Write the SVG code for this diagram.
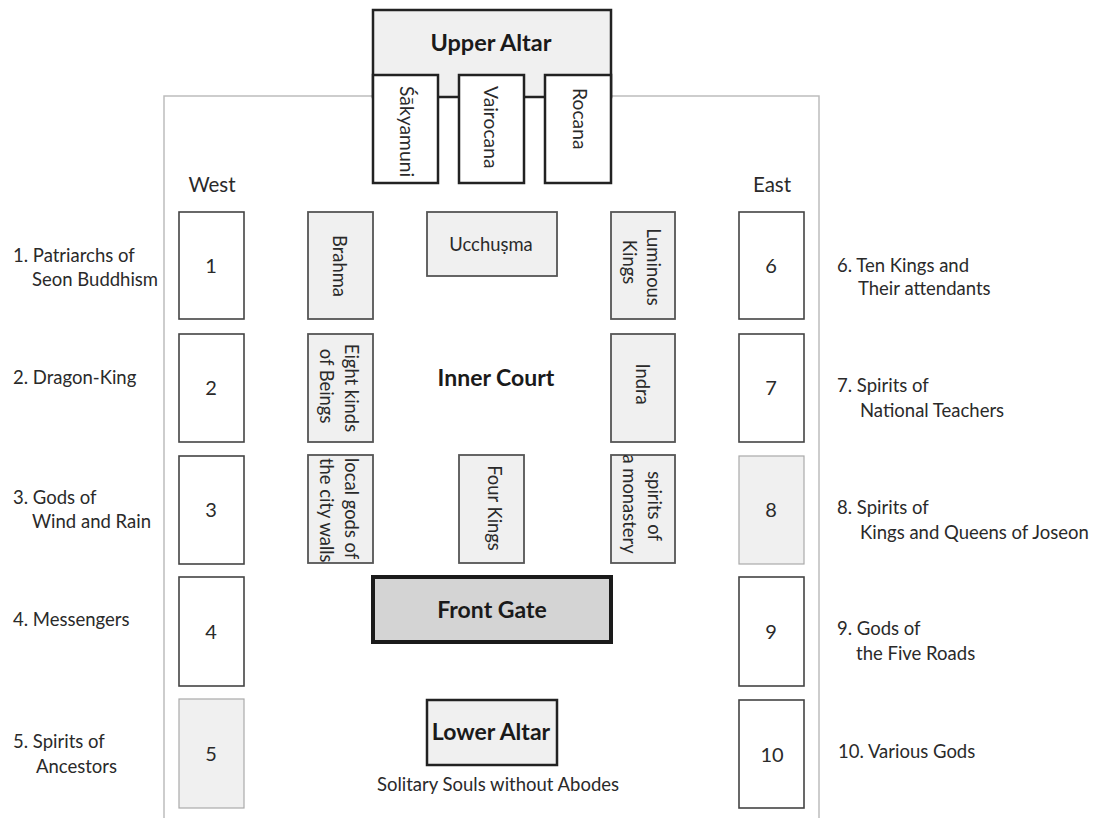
<svg xmlns="http://www.w3.org/2000/svg" width="1100" height="818" viewBox="0 0 1100 818">
<style>
text{font-family:Lato,"Liberation Sans",sans-serif;fill:#2a2a2a}
.lbl{font-size:18.5px}
.num{font-size:20px;text-anchor:middle}
.vt{font-size:18.4px;text-anchor:middle}
.vts{font-size:18.4px}
.ua{font-size:19.3px}
.title{font-weight:bold;text-anchor:middle;fill:#1a1a1a}
.box{fill:#fff;stroke:#444;stroke-width:1.6}
.lbox{fill:#f0f0f0;stroke:#aaa;stroke-width:1.2}
.ibox{fill:#f0f0f0;stroke:#555;stroke-width:1.8}
.frame{fill:none;stroke:#bdbdbd;stroke-width:1.5}
</style>
<rect width="1100" height="818" fill="#fff"/>
<g id="frame">
<path class="frame" d="M164,818 V96 H373 M611,96 H819 V818"/>
</g>
<g id="upper-altar">
<rect x="373" y="10" width="238" height="87" fill="#f0f0f0" stroke="#222" stroke-width="2.5"/>
<text class="title" x="491" y="51" font-size="23.5">Upper Altar</text>
</g>
<g id="sakyamuni">
<rect x="373" y="75" width="65" height="108" fill="#fff" stroke="#222" stroke-width="2.5"/>
<text class="ua" transform="translate(400,86) rotate(90)">Śākyamuni</text>
</g>
<g id="vairocana">
<rect x="459" y="75" width="65" height="108" fill="#fff" stroke="#222" stroke-width="2.5"/>
<text class="ua" transform="translate(484,86) rotate(90)">Vairocana</text>
</g>
<g id="rocana">
<rect x="545" y="75" width="66" height="108" fill="#fff" stroke="#222" stroke-width="2.5"/>
<text class="ua" transform="translate(573,88) rotate(90)">Rocana</text>
</g>
<g id="directions">
<text x="212" y="192" font-size="20.5" text-anchor="middle">West</text>
<text x="772" y="192" font-size="20.5" text-anchor="middle">East</text>
</g>
<g id="w1"><rect class="box" x="179" y="212" width="65" height="107"/><text class="num" x="211" y="273">1</text></g>
<g id="w2"><rect class="box" x="179" y="334" width="65" height="108"/><text class="num" x="211" y="395">2</text></g>
<g id="w3"><rect class="box" x="179" y="456" width="65" height="108"/><text class="num" x="211" y="517">3</text></g>
<g id="w4"><rect class="box" x="179" y="577" width="65" height="109"/><text class="num" x="211" y="639">4</text></g>
<g id="w5"><rect class="lbox" x="179" y="699" width="65" height="109"/><text class="num" x="211" y="761">5</text></g>
<g id="e6"><rect class="box" x="739" y="212" width="65" height="107"/><text class="num" x="771" y="273">6</text></g>
<g id="e7"><rect class="box" x="739" y="334" width="65" height="108"/><text class="num" x="771" y="395">7</text></g>
<g id="e8"><rect class="lbox" x="739" y="456" width="65" height="108"/><text class="num" x="771" y="517">8</text></g>
<g id="e9"><rect class="box" x="739" y="577" width="65" height="109"/><text class="num" x="771" y="639">9</text></g>
<g id="e10"><rect class="box" x="739" y="700" width="65" height="108"/><text class="num" x="772" y="762">10</text></g>
<g id="labels-west">
<text class="lbl" x="13" y="262">1. Patriarchs of</text>
<text class="lbl" x="32" y="286">Seon Buddhism</text>
<text class="lbl" x="13" y="384">2. Dragon-King</text>
<text class="lbl" x="13" y="504">3. Gods of</text>
<text class="lbl" x="32" y="528">Wind and Rain</text>
<text class="lbl" x="13" y="626">4. Messengers</text>
<text class="lbl" x="13" y="748">5. Spirits of</text>
<text class="lbl" x="36" y="773">Ancestors</text>
</g>
<g id="labels-east">
<text class="lbl" x="837" y="272">6. Ten Kings and</text>
<text class="lbl" x="858" y="295">Their attendants</text>
<text class="lbl" x="837" y="392">7. Spirits of</text>
<text class="lbl" x="860" y="417">National Teachers</text>
<text class="lbl" x="837" y="514">8. Spirits of</text>
<text class="lbl" x="860" y="539">Kings and Queens of Joseon</text>
<text class="lbl" x="837" y="635">9. Gods of</text>
<text class="lbl" x="856" y="660">the Five Roads</text>
<text class="lbl" x="838" y="758">10. Various Gods</text>
</g>
<g id="brahma"><rect class="ibox" x="308" y="212" width="65" height="107"/><text class="vt" transform="translate(333,266) rotate(90)">Brahma</text></g>
<g id="ucchusma"><rect class="ibox" x="427" y="212" width="130" height="64"/><text class="vt" x="491" y="251">Ucchuṣma</text></g>
<g id="luminous-kings"><rect class="ibox" x="611" y="212" width="64" height="107"/><text class="vt" transform="translate(647,267) rotate(90)">Luminous</text><text class="vt" transform="translate(623,262) rotate(90)">Kings</text></g>
<g id="eight-kinds"><rect class="ibox" x="308" y="334" width="65" height="108"/><text class="vt" transform="translate(345,388) rotate(90)">Eight kinds</text><text class="vt" transform="translate(320,386) rotate(90)">of Beings</text></g>
<g id="indra"><rect class="ibox" x="611" y="334" width="64" height="108"/><text class="vt" transform="translate(636,384) rotate(90)">Indra</text></g>
<g id="inner-court"><text class="title" x="496" y="386" font-size="23">Inner Court</text></g>
<defs><clipPath id="clipLocal"><rect x="308" y="455" width="65" height="108"/></clipPath></defs>
<g id="local-gods"><rect class="ibox" x="308" y="455" width="65" height="108"/><g clip-path="url(#clipLocal)"><text class="vts" transform="translate(345,458) rotate(90)">local gods of</text><text class="vts" transform="translate(320,458) rotate(90)">the city walls</text></g></g>
<g id="four-kings"><rect class="ibox" x="459" y="455" width="65" height="108"/><text class="vt" transform="translate(488,508) rotate(90)">Four Kings</text></g>
<g id="spirits-monastery"><rect class="ibox" x="611" y="455" width="64" height="108"/><text class="vt" transform="translate(648,506) rotate(90)">spirits of</text><text class="vt" transform="translate(623,504) rotate(90)">a monastery</text></g>
<g id="front-gate"><rect x="373" y="577" width="238" height="65" fill="#d4d4d4" stroke="#1a1a1a" stroke-width="4"/><text class="title" x="492" y="618" font-size="23">Front Gate</text></g>
<g id="lower-altar"><rect x="427" y="700" width="130" height="65" fill="#f0f0f0" stroke="#222" stroke-width="2.5"/><text class="title" x="491" y="740" font-size="23">Lower Altar</text><text class="lbl" x="498" y="791" text-anchor="middle">Solitary Souls without Abodes</text></g>
</svg>
